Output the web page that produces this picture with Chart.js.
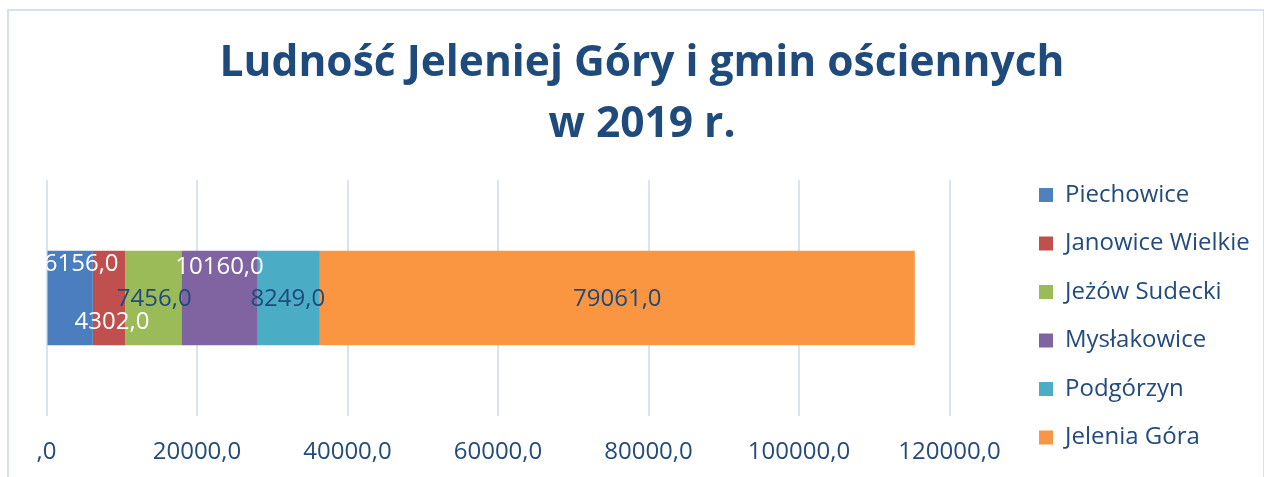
<!DOCTYPE html>
<html><head><meta charset="utf-8">
<script src="https://cdn.jsdelivr.net/npm/chart.js@4/dist/chart.umd.min.js"></script>
<style>html,body{margin:0;padding:0;background:#fff}#wrap{width:1264px;height:477px;position:relative}canvas{display:block}</style>
</head><body><div id="wrap"><canvas id="c" width="1264" height="477"></canvas></div>
<script>
// ---- data ----
const categories = ['2019'];
const seriesNames = ['Piechowice', 'Janowice Wielkie', 'Jeżów Sudecki', 'Mysłakowice', 'Podgórzyn', 'Jelenia Góra'];
const piechowice = [6156];
const janowiceWielkie = [4302];
const jezowSudecki = [7456];
const myslakowice = [10160];
const podgorzyn = [8249];
const jeleniaGora = [79061];
const tickValues = [0, 20000, 40000, 60000, 80000, 100000, 120000];
const tickLabels = [',0', '20000,0', '40000,0', '60000,0', '80000,0', '100000,0', '120000,0'];
const titleLines = ['Ludność Jeleniej Góry i gmin ościennych', 'w 2019 r.'];

// ---- styles ----
const seriesValues = [piechowice, janowiceWielkie, jezowSudecki, myslakowice, podgorzyn, jeleniaGora];
const gradStops = [
  ['#5F8FCE', '#4A7EBF', '#3B6CAB'],
  ['#D16A67', '#C0504D', '#B13936'],
  ['#ADCA76', '#9BBB59', '#89AC42'],
  ['#957CB5', '#8064A2', '#6F528D'],
  ['#68BED5', '#4BACC6', '#369FBA'],
  ['#FAA669', '#FA9541', '#E7842D']
];
const legendColors = ['#4F81BD', '#C0504D', '#9BBB59', '#8064A2', '#4BACC6', '#F79646'];
const labelStyle = [
  {color: '#FFFFFF', dx: 11, dy: -34},
  {color: '#FFFFFF', dx: 3, dy: 24},
  {color: '#1F4A7C', dx: 1, dy: 1},
  {color: '#FFFFFF', dx: 0, dy: -31},
  {color: '#1F4A7C', dx: -1, dy: 1},
  {color: '#1F4A7C', dx: 0, dy: 1}
];
const textColor = '#234B7C';
const FONT = "'Open Sans', sans-serif";
const LEGEND_LEFT = 1014.5;

Chart.defaults.font.family = FONT;

function gradientFor(i) {
  return function (ctx) {
    const chart = ctx.chart;
    const area = chart.chartArea;
    if (!area) return gradStops[i][1];
    const meta = chart.getDatasetMeta(i);
    const el = meta && meta.data ? meta.data[0] : null;
    if (!el || !isFinite(el.height) || !el.height) return gradStops[i][1];
    const top = el.y - el.height / 2, bottom = el.y + el.height / 2;
    const g = chart.ctx.createLinearGradient(0, top, 0, bottom);
    g.addColorStop(0, gradStops[i][0]);
    g.addColorStop(0.5, gradStops[i][1]);
    g.addColorStop(1, gradStops[i][2]);
    return g;
  };
}

const frame = {
  id: 'frame',
  beforeDraw(chart) {
    const c = chart.ctx;
    c.save();
    c.fillStyle = '#fff';
    c.fillRect(0, 0, chart.width, chart.height);
    c.strokeStyle = '#D5E1F0';
    c.lineWidth = 2;
    c.strokeRect(8, 10, 1256, 480);
    c.restore();
  }
};

const legendShift = {
  id: 'legendShift',
  afterLayout(chart) {
    const lg = chart.legend;
    if (!lg) return;
    const w = lg.width;
    lg.left = LEGEND_LEFT;
    lg.right = LEGEND_LEFT + w;
  }
};

const dataLabels = {
  id: 'dataLabels',
  afterDatasetsDraw(chart) {
    const c = chart.ctx;
    const a = chart.chartArea;
    c.save();
    c.beginPath();
    c.rect(a.left, a.top, a.right - a.left, a.bottom - a.top);
    c.clip();
    c.font = '24px ' + FONT;
    c.textAlign = 'center';
    c.textBaseline = 'middle';
    chart.data.datasets.forEach((ds, i) => {
      const meta = chart.getDatasetMeta(i);
      meta.data.forEach((el, j) => {
        const v = ds.data[j];
        const txt = v.toFixed(1).replace('.', ',');
        const cx = (el.x + el.base) / 2 + labelStyle[i].dx;
        const cy = el.y + labelStyle[i].dy;
        c.fillStyle = labelStyle[i].color;
        c.fillText(txt, cx, cy);
      });
    });
    c.restore();
  }
};

new Chart(document.getElementById('c'), {
  type: 'bar',
  data: {
    labels: categories,
    datasets: seriesNames.map((name, i) => ({
      label: name,
      data: seriesValues[i],
      backgroundColor: gradientFor(i),
      borderWidth: 0,
      categoryPercentage: 0.4,
      barPercentage: 1.0
    }))
  },
  options: {
    indexAxis: 'y',
    responsive: false,
    animation: false,
    devicePixelRatio: 1,
    layout: {padding: {left: 31, right: 11, top: 0, bottom: 3}},
    scales: {
      x: {
        stacked: true,
        min: 0,
        max: 120000,
        afterBuildTicks(scale) { scale.ticks = tickValues.map(v => ({value: v})); },
        afterFit(scale) { scale.paddingLeft = 46.5; scale.paddingRight = 1264 - 949.5; scale.height = 58; },
        ticks: {
          callback(value) { const k = tickValues.indexOf(value); return k >= 0 ? tickLabels[k] : ''; },
          color: textColor,
          font: {size: 24, family: FONT},
          padding: 22,
          maxRotation: 0,
          autoSkip: false
        },
        grid: {color: '#DAE4F1', lineWidth: 2, drawTicks: false},
        border: {display: false}
      },
      y: {
        stacked: true,
        display: false
      }
    },
    plugins: {
      title: {
        display: true,
        text: titleLines,
        color: '#1F4A7C',
        font: {size: 42.5, weight: 'bold', family: FONT, lineHeight: 1.435},
        padding: {top: 33.5, bottom: 24.5}
      },
      legend: {
        position: 'right',
        align: 'end',
        labels: {
          color: textColor,
          font: {size: 24, family: FONT},
          boxWidth: 14,
          boxHeight: 14,
          padding: 24.5,
          generateLabels(chart) {
            return chart.data.datasets.map((ds, i) => ({
              text: ds.label,
              fillStyle: legendColors[i],
              strokeStyle: legendColors[i],
              lineWidth: 0,
              fontColor: textColor,
              hidden: false,
              datasetIndex: i
            }));
          }
        }
      },
      tooltip: {enabled: false}
    }
  },
  plugins: [frame, legendShift, dataLabels]
});
</script>
</body></html>
